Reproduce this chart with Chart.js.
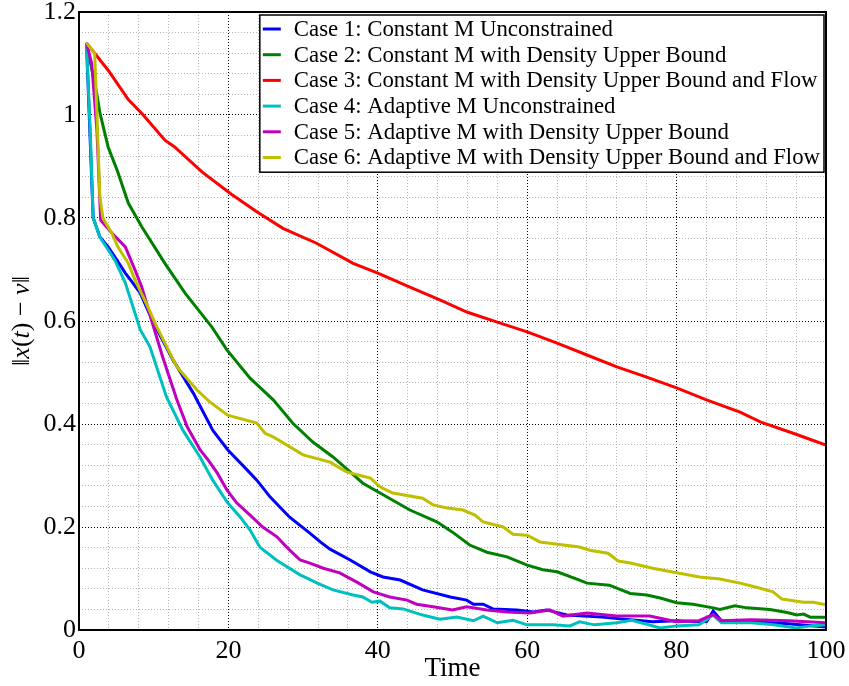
<!DOCTYPE html>
<html>
<head>
<meta charset="utf-8">
<script src="https://cdn.jsdelivr.net/npm/chart.js@4.4.0/dist/chart.umd.min.js"></script>
<style>
  body { margin: 0; background: #fff; }
  canvas { display: block; }
</style>
</head>
<body>
<canvas id="errChart" width="849" height="686"></canvas>
<script>
// ||x(t) - nu|| over time, one pair of arrays per case
const case1Time = [1, 1.9, 2.8, 3.9, 5.1, 6.2, 7.1, 8.2, 9.5, 10.2, 12.6, 15.3, 17.9, 19.9, 22.5, 23.8, 25.6, 28.2, 30.9, 32.3, 33.6, 36.3, 39, 40.7, 43, 46, 49.7, 51.9, 52.8, 54.1, 55.4, 58.6, 60.8, 62.6, 65.3, 70, 76.8, 80, 84, 84.9, 86, 90, 95, 100];
const case1Err = [1.14, 0.80, 0.763, 0.744, 0.718, 0.693, 0.676, 0.654, 0.612, 0.59, 0.524, 0.46, 0.388, 0.35, 0.311, 0.291, 0.258, 0.219, 0.188, 0.171, 0.157, 0.136, 0.113, 0.103, 0.097, 0.078, 0.064, 0.058, 0.05, 0.05, 0.041, 0.039, 0.035, 0.039, 0.029, 0.025, 0.016, 0.018, 0.016, 0.037, 0.018, 0.016, 0.012, 0.006];

const case2Time = [1, 2.4, 2.8, 3.9, 5.1, 6.6, 8.4, 11.5, 14.2, 17.8, 19.8, 22.9, 26, 28.6, 31.3, 34, 36.3, 38, 40.3, 44.3, 47.9, 50, 52.3, 54.6, 57.3, 60, 62.1, 64, 67, 68, 71, 73.8, 76, 77.8, 80, 82.2, 84.9, 85.8, 87.8, 89.4, 92.5, 94.8, 96.1, 97, 97.9, 100];
const case2Err = [1.14, 1.04, 1.004, 0.938, 0.893, 0.829, 0.783, 0.712, 0.654, 0.588, 0.544, 0.489, 0.447, 0.402, 0.365, 0.336, 0.307, 0.285, 0.266, 0.233, 0.21, 0.19, 0.165, 0.151, 0.142, 0.126, 0.117, 0.113, 0.097, 0.091, 0.087, 0.071, 0.068, 0.062, 0.053, 0.05, 0.043, 0.04, 0.047, 0.043, 0.04, 0.034, 0.029, 0.031, 0.025, 0.025];

const case3Time = [1, 2.1, 3.9, 6.6, 8.6, 11.5, 12.8, 16.5, 20.4, 23.8, 27.3, 31.8, 36.7, 40, 44.3, 48.3, 52, 56.4, 60, 64, 68, 72, 76, 80, 84, 88.5, 91.2, 95.6, 98.1, 100];
const case3Err = [1.14, 1.12, 1.087, 1.03, 1.0, 0.951, 0.938, 0.889, 0.846, 0.812, 0.78, 0.751, 0.712, 0.693, 0.666, 0.641, 0.617, 0.596, 0.579, 0.557, 0.534, 0.511, 0.491, 0.47, 0.447, 0.423, 0.404, 0.382, 0.369, 0.359];

const case4Time = [1, 1.5, 1.9, 2.8, 4.8, 6.2, 8.2, 9.5, 11.7, 13.9, 16.2, 17.9, 19.9, 21.6, 22.9, 24.2, 26.5, 29.6, 31.9, 34, 36.7, 38, 39.2, 40.3, 41.6, 43.4, 46, 48.3, 50.6, 52.8, 54.1, 56, 58.1, 60, 63.5, 65.7, 67, 69, 72, 74, 77.8, 80, 83, 84.9, 86, 90, 93, 96, 98, 100];
const case4Err = [1.14, 0.97, 0.80, 0.763, 0.718, 0.674, 0.583, 0.55, 0.453, 0.388, 0.336, 0.291, 0.247, 0.219, 0.194, 0.161, 0.135, 0.107, 0.091, 0.078, 0.068, 0.064, 0.054, 0.056, 0.043, 0.041, 0.029, 0.021, 0.025, 0.018, 0.027, 0.014, 0.019, 0.01, 0.01, 0.008, 0.016, 0.01, 0.014, 0.019, 0.004, 0.008, 0.01, 0.029, 0.014, 0.014, 0.01, 0.004, 0.008, 0.01];

const case5Time = [1, 1.7, 2.4, 2.9, 4.4, 6.2, 7.5, 8.4, 9.7, 11.2, 13.1, 14.5, 16.2, 17.3, 18.5, 19.8, 21.1, 22.9, 24.6, 26.5, 27.8, 29.6, 30.9, 32.7, 34.9, 37.2, 39.4, 41.6, 43.9, 45.2, 47.4, 50, 51.9, 54.6, 57.3, 60.4, 63, 64.8, 68, 72, 76.4, 80, 83, 84.9, 86, 90, 95, 100];
const case5Err = [1.14, 1.1, 0.97, 0.796, 0.771, 0.744, 0.699, 0.666, 0.602, 0.53, 0.447, 0.394, 0.35, 0.33, 0.305, 0.272, 0.247, 0.223, 0.2, 0.181, 0.161, 0.136, 0.13, 0.12, 0.111, 0.093, 0.074, 0.064, 0.058, 0.05, 0.045, 0.039, 0.045, 0.039, 0.035, 0.033, 0.039, 0.027, 0.033, 0.027, 0.027, 0.016, 0.018, 0.03, 0.018, 0.02, 0.018, 0.014];

const case6Time = [1, 2.1, 2.8, 3.2, 4.4, 5.2, 6.6, 7.5, 9.3, 10.4, 13.1, 15.8, 17.5, 19.9, 23.8, 24.9, 26, 30, 33.6, 35.8, 39, 40.3, 42, 46, 47.4, 49.3, 51.4, 53, 54.1, 56.8, 58.1, 60, 61.7, 67, 68.4, 70.8, 72.2, 73.8, 76.8, 80, 83.1, 85.8, 88.5, 91.2, 92.9, 94.1, 97, 98.3, 100];
const case6Err = [1.14, 1.12, 0.84, 0.80, 0.77, 0.744, 0.712, 0.68, 0.625, 0.589, 0.511, 0.466, 0.443, 0.417, 0.402, 0.382, 0.375, 0.34, 0.326, 0.307, 0.295, 0.278, 0.266, 0.256, 0.243, 0.237, 0.233, 0.223, 0.21, 0.2, 0.186, 0.184, 0.171, 0.161, 0.155, 0.149, 0.134, 0.13, 0.12, 0.111, 0.103, 0.099, 0.091, 0.081, 0.074, 0.06, 0.054, 0.054, 0.049];

const caseLabels = [
    'Case 1: Constant M Unconstrained',
    'Case 2: Constant M with Density Upper Bound',
    'Case 3: Constant M with Density Upper Bound and Flow',
    'Case 4: Adaptive M Unconstrained',
    'Case 5: Adaptive M with Density Upper Bound',
    'Case 6: Adaptive M with Density Upper Bound and Flow'
];
const caseColors = ['#0000ff', '#008000', '#ff0000', '#00bfbf', '#bf00bf', '#bfbf00'];

const xMajorTicks = [0, 20, 40, 60, 80, 100];
const yMajorTicks = [0, 0.2, 0.4, 0.6, 0.8, 1, 1.2];

const caseTimes = [case1Time, case2Time, case3Time, case4Time, case5Time, case6Time];
const caseErrs = [case1Err, case2Err, case3Err, case4Err, case5Err, case6Err];

const serif = "'Liberation Serif', 'Times New Roman', 'DejaVu Serif', serif";

const isMajorX = v => xMajorTicks.some(t => Math.abs(t - v) < 1e-6);
const isMajorY = v => yMajorTicks.some(t => Math.abs(t - v) < 1e-6);

// closed frame round the plot area
const frame = {
    id: 'frame',
    afterDraw(chart) {
        const { ctx, chartArea: a } = chart;
        ctx.save();
        ctx.strokeStyle = '#000';
        ctx.lineWidth = 2;
        ctx.strokeRect(a.left, a.top, a.right - a.left, a.bottom - a.top);
        ctx.restore();
    }
};

// legend box in the top right corner of the plot
const legendBox = {
    id: 'legendBox',
    afterDraw(chart) {
        const { ctx, chartArea: a } = chart;
        ctx.save();
        ctx.font = '22.8px ' + serif;
        const textW = Math.max(...caseLabels.map(l => ctx.measureText(l).width));
        const boxW = textW + 38;
        const right = a.right - 2;
        const left = right - boxW;
        const top = a.top + 3;
        const rowH = 25.7;
        const boxH = rowH * caseLabels.length + 3;
        ctx.fillStyle = '#fff';
        ctx.fillRect(left, top, boxW, boxH);
        ctx.strokeStyle = '#000';
        ctx.lineWidth = 1.5;
        ctx.strokeRect(left, top, boxW, boxH);
        ctx.textBaseline = 'middle';
        caseLabels.forEach((label, i) => {
            const y = top + 14 + i * rowH;
            ctx.strokeStyle = caseColors[i];
            ctx.lineWidth = 3;
            ctx.beginPath();
            ctx.moveTo(left + 3, y);
            ctx.lineTo(left + 21, y);
            ctx.stroke();
            ctx.fillStyle = '#000';
            ctx.fillText(label, left + 34, y + 1);
        });
        ctx.restore();
    }
};

// y axis title with italic symbols
const yTitle = {
    id: 'yTitle',
    afterDraw(chart) {
        const { ctx, chartArea: a } = chart;
        const parts = [
            ['\u2016', 'normal'], ['x', 'italic'], ['(', 'normal'], ['t', 'italic'],
            [')', 'normal'], [' \u2212 ', 'normal'], ['\u03bd', 'italic'], ['\u2016', 'normal']
        ];
        const size = 26;
        ctx.save();
        ctx.translate(22, (a.top + a.bottom) / 2);
        ctx.rotate(-Math.PI / 2);
        ctx.fillStyle = '#000';
        ctx.textBaseline = 'middle';
        let total = 0;
        parts.forEach(([s, style]) => {
            ctx.font = style + ' ' + size + 'px ' + serif;
            total += ctx.measureText(s).width;
        });
        let x = -total / 2;
        parts.forEach(([s, style]) => {
            ctx.font = style + ' ' + size + 'px ' + serif;
            ctx.fillText(s, x, 0);
            x += ctx.measureText(s).width;
        });
        ctx.restore();
    }
};

const datasets = caseLabels.map((label, i) => ({
    label: label,
    data: caseTimes[i].map((t, j) => ({ x: t, y: caseErrs[i][j] })),
    borderColor: caseColors[i],
    backgroundColor: caseColors[i],
    borderWidth: 3,
    pointRadius: 0,
    tension: 0,
    fill: false,
    order: caseLabels.length - i
}));

new Chart(document.getElementById('errChart'), {
    type: 'line',
    data: { datasets: datasets },
    options: {
        responsive: false,
        animation: false,
        devicePixelRatio: 1,
        layout: { padding: { left: 0, top: 12, right: 23, bottom: 0 } },
        plugins: {
            legend: { display: false },
            tooltip: { enabled: false }
        },
        scales: {
            x: {
                type: 'linear',
                min: 0,
                max: 100,
                afterBuildTicks: scale => {
                    const ticks = [];
                    for (let i = 0; i <= 25; i++) ticks.push({ value: i * 4 });
                    scale.ticks = ticks;
                },
                afterFit: scale => {
                    scale.height = 56;
                    scale.paddingLeft = 0;
                    scale.paddingRight = 0;
                },
                border: { display: false, dash: [1, 2] },
                grid: {
                    drawTicks: false,
                    lineWidth: 1,
                    color: c => isMajorX(c.tick.value) ? '#000' : '#b4b4b4'
                },
                ticks: {
                    autoSkip: false,
                    maxRotation: 0,
                    padding: 6,
                    color: '#000',
                    font: { family: serif, size: 26 },
                    callback: v => isMajorX(v) ? String(v) : ''
                },
                title: {
                    display: true,
                    text: 'Time',
                    color: '#000',
                    font: { family: serif, size: 27 },
                    padding: { top: 0, bottom: 1 }
                }
            },
            y: {
                type: 'linear',
                min: 0,
                max: 1.2,
                afterBuildTicks: scale => {
                    const ticks = [];
                    for (let i = 0; i <= 30; i++) ticks.push({ value: i * 4 / 100 });
                    scale.ticks = ticks;
                },
                afterFit: scale => {
                    scale.width = 79;
                    scale.paddingTop = 0;
                    scale.paddingBottom = 0;
                },
                border: { display: false, dash: [1, 2] },
                grid: {
                    drawTicks: false,
                    lineWidth: 1,
                    color: c => isMajorY(c.tick.value) ? '#000' : '#b4b4b4'
                },
                ticks: {
                    autoSkip: false,
                    padding: 3,
                    color: '#000',
                    font: { family: serif, size: 26 },
                    callback: v => isMajorY(v) ? String(Number(v.toFixed(1))) : ''
                }
            }
        }
    },
    plugins: [frame, legendBox, yTitle]
});
</script>
</body>
</html>
